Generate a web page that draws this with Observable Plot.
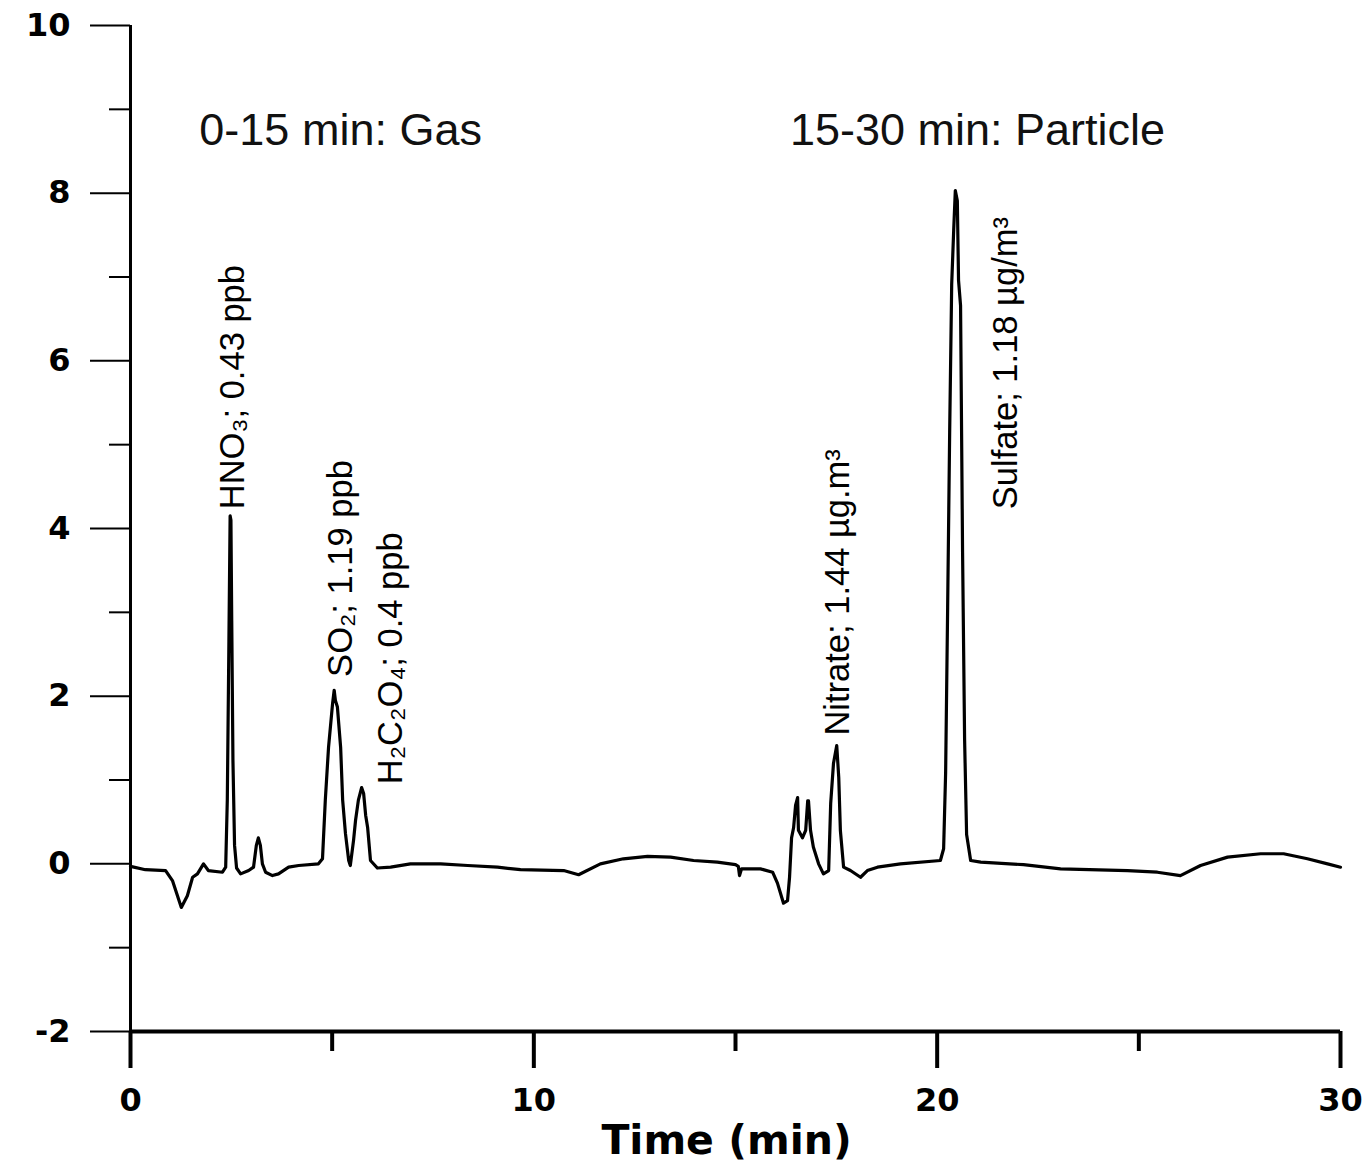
<!DOCTYPE html>
<html>
<head>
<meta charset="utf-8">
<script src="https://cdn.jsdelivr.net/npm/d3@7"></script>
<script src="https://cdn.jsdelivr.net/npm/@observablehq/plot@0.6"></script>
<style>
  html, body { margin: 0; padding: 0; background: #fff; }
  #chart svg { display: block; }
</style>
</head>
<body>
<div id="chart"></div>
<script>
// Retention time (min)
const time = [
  0.00, 0.37, 0.87, 1.04, 1.26, 1.41, 1.54, 1.66, 1.81, 1.93,
  2.28, 2.36, 2.40, 2.44, 2.47, 2.49, 2.51, 2.54, 2.58, 2.63,
  2.73, 2.93, 3.05, 3.12, 3.17, 3.22, 3.27, 3.35, 3.52, 3.67,
  3.92, 4.17, 4.66, 4.76, 4.83, 4.91, 5.01, 5.05, 5.08, 5.13,
  5.21, 5.26, 5.33, 5.41, 5.45, 5.53, 5.58, 5.65, 5.73, 5.78,
  5.83, 5.88, 5.95, 6.12, 6.45, 6.94, 7.69, 8.36, 9.10, 9.67,
  10.74, 11.11, 11.65, 12.22, 12.82, 13.39, 13.96, 14.55, 15.00, 15.07,
  15.10, 15.15, 15.62, 15.92, 16.04, 16.19, 16.29, 16.34, 16.39, 16.44,
  16.49, 16.54, 16.56, 16.66, 16.74, 16.79, 16.81, 16.86, 16.93, 17.06,
  17.18, 17.31, 17.36, 17.43, 17.51, 17.56, 17.60, 17.68, 17.85, 18.10,
  18.27, 18.52, 19.09, 20.08, 20.16, 20.21, 20.26, 20.31, 20.36, 20.41,
  20.45, 20.50, 20.53, 20.58, 20.63, 20.68, 20.73, 20.83, 21.08, 22.14,
  23.06, 24.72, 25.46, 26.03, 26.53, 27.20, 28.02, 28.59, 29.18, 29.68,
  30.00
];
// Detector signal
const signal = [
  -0.03, -0.07, -0.08, -0.20, -0.52, -0.38, -0.16, -0.12, 0.00, -0.08,
  -0.10, -0.04, 0.76, 2.66, 4.15, 4.10, 2.90, 1.23, 0.22, -0.05,
  -0.12, -0.08, -0.04, 0.22, 0.31, 0.22, 0.00, -0.10, -0.14, -0.12,
  -0.04, -0.02, 0.00, 0.06, 0.76, 1.39, 1.91, 2.07, 1.95, 1.87,
  1.39, 0.76, 0.36, 0.04, -0.02, 0.28, 0.52, 0.76, 0.91, 0.84,
  0.58, 0.43, 0.04, -0.05, -0.04, 0.00, 0.00, -0.02, -0.04, -0.07,
  -0.08, -0.13, 0.00, 0.06, 0.09, 0.08, 0.04, 0.02, -0.01, -0.03,
  -0.14, -0.06, -0.06, -0.10, -0.23, -0.47, -0.44, -0.16, 0.31, 0.43,
  0.70, 0.79, 0.40, 0.31, 0.40, 0.75, 0.75, 0.40, 0.20, 0.00,
  -0.12, -0.08, 0.72, 1.20, 1.41, 1.03, 0.40, -0.04, -0.08, -0.16,
  -0.08, -0.04, 0.00, 0.04, 0.18, 1.09, 3.06, 5.15, 6.91, 7.56,
  8.03, 7.91, 6.96, 6.66, 3.71, 1.49, 0.35, 0.04, 0.02, -0.01,
  -0.06, -0.08, -0.10, -0.14, -0.02, 0.08, 0.12, 0.12, 0.06, 0.00,
  -0.04
];

// Tick values
const xMajorTicks = [0, 10, 20, 30];
const xMinorTicks = [5, 15, 25];
const yMajorTicks = [-2, 0, 2, 4, 6, 8, 10];
const yMinorTicks = [-1, 1, 3, 5, 7, 9];

// Peak labels (anchored at the start of the rotated text)
const peakLabels = ["HNO₃; 0.43 ppb", "SO₂; 1.19 ppb", "H₂C₂O₄; 0.4 ppb", "Nitrate; 1.44 µg.m³", "Sulfate; 1.18 µg/m³"];
const peakTimes = [2.53, 5.21, 6.45, 17.55, 21.70];
const peakLevels = [4.23, 2.23, 0.95, 1.53, 4.23];

// Section titles
const sectionLabels = ["0-15 min: Gas", "15-30 min: Particle"];
const sectionTimes = [5.21, 21.0];
const sectionLevels = [8.75, 8.75];

const xLabel = "Time (min)";

const trace = time.map((t, i) => ({t, v: signal[i]}));
const peaks = peakLabels.map((label, i) => ({label, t: peakTimes[i], v: peakLevels[i]}));
const sections = sectionLabels.map((label, i) => ({label, t: sectionTimes[i], v: sectionLevels[i]}));

const numFont = "DejaVu Sans, Liberation Sans, sans-serif";
const txtFont = "Liberation Sans, Arial, sans-serif";

const chart = Plot.plot({
  width: 1367,
  height: 1165,
  marginLeft: 130,
  marginRight: 27,
  marginTop: 25,
  marginBottom: 134,
  style: {background: "#fff", color: "#000", fontFamily: txtFont},
  x: {domain: [0, 30]},
  y: {domain: [-2, 10]},
  marks: [
    Plot.axisY({ticks: yMajorTicks, tickSize: 40, tickPadding: 20, strokeWidth: 2, fontSize: 32, fontWeight: "bold", fontFamily: numFont, tickFormat: d => String(d), label: null}),
    Plot.axisY({ticks: yMinorTicks, tickSize: 21, strokeWidth: 2, tickFormat: () => "", label: null}),
    Plot.axisX({ticks: xMajorTicks, tickSize: 37, tickPadding: 20, strokeWidth: 4, fontSize: 32, fontWeight: "bold", fontFamily: numFont, tickFormat: d => String(d), label: null}),
    Plot.axisX({ticks: xMinorTicks, tickSize: 20, strokeWidth: 4, tickFormat: () => "", label: null}),
    Plot.ruleX([0], {stroke: "#000", strokeWidth: 3}),
    Plot.ruleY([-2], {stroke: "#000", strokeWidth: 4}),
    Plot.line(trace, {x: "t", y: "v", stroke: "#000", strokeWidth: 3.2, strokeLinejoin: "round"}),
    Plot.text(sections, {x: "t", y: "v", text: "label", fontSize: 45, fontFamily: txtFont, textAnchor: "middle", lineAnchor: "middle", fill: "#111"}),
    Plot.text(peaks, {x: "t", y: "v", text: "label", rotate: -90, textAnchor: "start", lineAnchor: "middle", fontSize: 34.5, fontFamily: txtFont, fill: "#000"}),
    Plot.text([xLabel], {text: d => d, frameAnchor: "bottom", dx: -9, dy: 122, lineAnchor: "bottom", fontSize: 41, fontWeight: "bold", fontFamily: numFont, fill: "#000"})
  ]
});

document.getElementById("chart").appendChild(chart);
</script>
</body>
</html>
